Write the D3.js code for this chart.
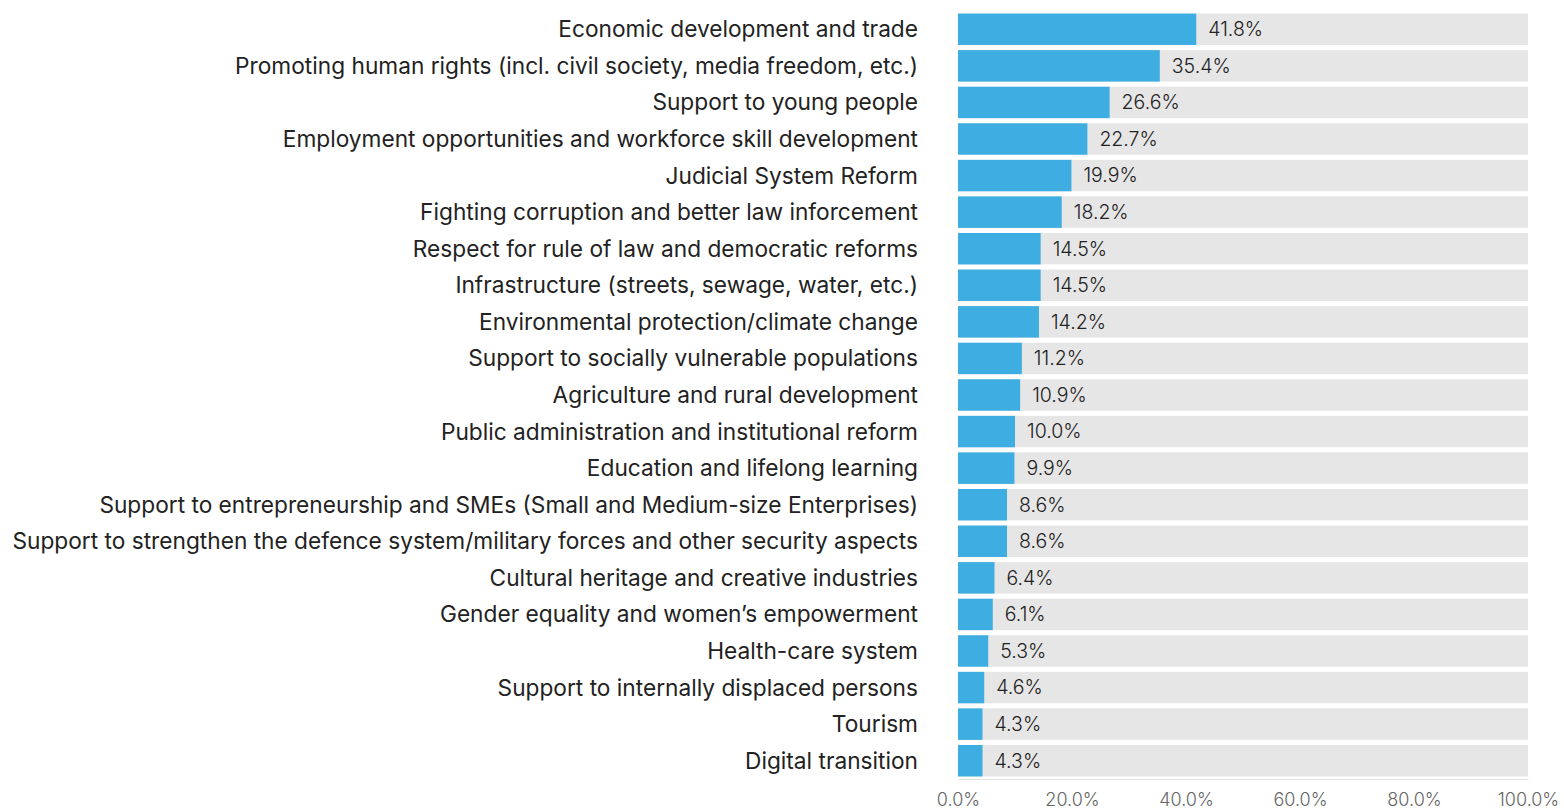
<!DOCTYPE html>
<html>
<head>
<meta charset="utf-8">
<script src="https://cdn.jsdelivr.net/npm/d3@7"></script>
<style>
  html, body { margin: 0; padding: 0; background: #ffffff; }
  svg { display: block; }
</style>
</head>
<body>
<svg id="chart" width="1564" height="811"></svg>
<script>
const categories = [
  "Economic development and trade",
  "Promoting human rights (incl. civil society, media freedom, etc.)",
  "Support to young people",
  "Employment opportunities and workforce skill development",
  "Judicial System Reform",
  "Fighting corruption and better law inforcement",
  "Respect for rule of law and democratic reforms",
  "Infrastructure (streets, sewage, water, etc.)",
  "Environmental protection/climate change",
  "Support to socially vulnerable populations",
  "Agriculture and rural development",
  "Public administration and institutional reform",
  "Education and lifelong learning",
  "Support to entrepreneurship and SMEs (Small and Medium-size Enterprises)",
  "Support to strengthen the defence system/military forces and other security aspects",
  "Cultural heritage and creative industries",
  "Gender equality and women\u2019s empowerment",
  "Health-care system",
  "Support to internally displaced persons",
  "Tourism",
  "Digital transition"
];
const values = [41.8, 35.4, 26.6, 22.7, 19.9, 18.2, 14.5, 14.5, 14.2, 11.2, 10.9, 10.0, 9.9, 8.6, 8.6, 6.4, 6.1, 5.3, 4.6, 4.3, 4.3];
const xTicks = [0, 20, 40, 60, 80, 100];

const svg = d3.select("#chart");
const left = 958, right = 1528;
const x = d3.scaleLinear().domain([0, 100]).range([left, right]);
const y = d3.scaleBand().domain(categories).range([11, 779]).paddingInner(0.14).paddingOuter(0.07);
const FONT = "Inter, 'Noto Sans', sans-serif";

// background bars
svg.append("g").selectAll("rect").data(categories).join("rect")
  .attr("x", x(0)).attr("y", d => y(d))
  .attr("width", x(100) - x(0)).attr("height", y.bandwidth())
  .attr("fill", "#e6e6e6");

// value bars
svg.append("g").selectAll("rect").data(values).join("rect")
  .attr("x", x(0)).attr("y", (d, i) => y(categories[i]))
  .attr("width", d => x(d) - x(0)).attr("height", y.bandwidth())
  .attr("fill", "#3dade2");

// value labels
svg.append("g").selectAll("text").data(values).join("text")
  .attr("x", d => x(d) + 12)
  .attr("y", (d, i) => y(categories[i]) + y.bandwidth() / 2)
  .attr("dy", "0.35em")
  .attr("font-family", FONT).attr("font-size", 19.5).attr("font-weight", 300).attr("fill", "#222")
  .text(d => d.toFixed(1) + "%");

// category labels
const labels = svg.append("g").selectAll("text").data(categories).join("text")
  .attr("x", 918)
  .attr("y", d => y(d) + y.bandwidth() / 2)
  .attr("dy", "0.35em")
  .attr("text-anchor", "end")
  .attr("font-family", FONT).attr("font-size", 20).attr("fill", "#222")
  .text(d => d);
// fit longest label into available width
let maxW = 0;
labels.each(function() { maxW = Math.max(maxW, this.getComputedTextLength()); });
const fs = 20 * 906 / maxW;
labels.attr("font-size", fs);

// x axis
const axis = svg.append("g").attr("transform", "translate(0,779)")
  .call(d3.axisBottom(x).tickValues(xTicks).tickSize(0).tickPadding(14).tickFormat(d => d.toFixed(1) + "%"));
axis.select(".domain").attr("stroke", "#e2e2e2");
axis.selectAll("text").attr("font-family", FONT).attr("font-size", 18).attr("font-weight", 300).attr("fill", "#666");
</script>
</body>
</html>
